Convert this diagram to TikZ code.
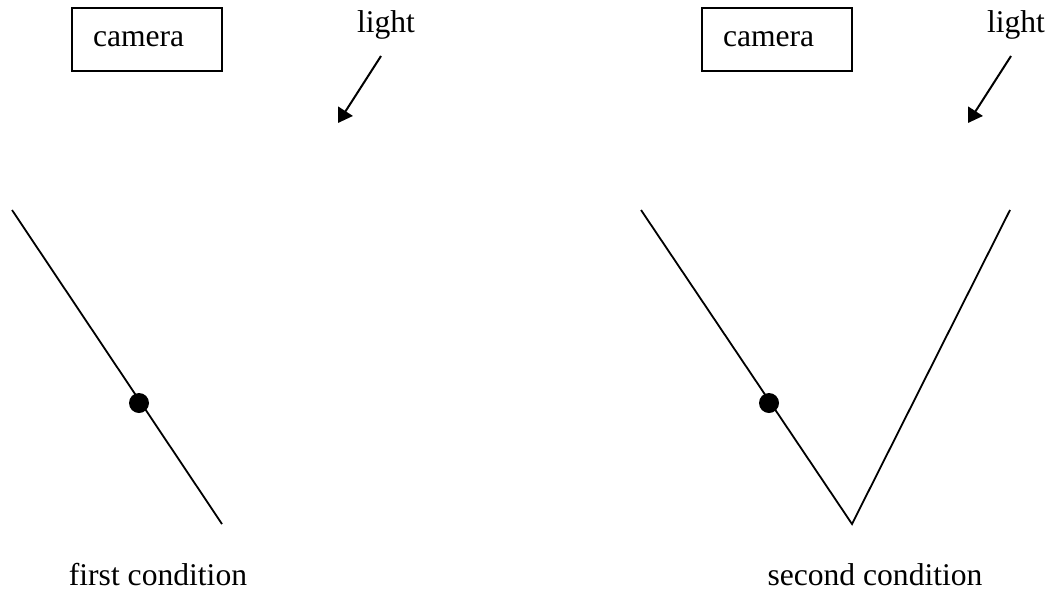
\documentclass[tikz,border=0pt]{standalone}
\usepackage{fontspec}
\setmainfont{Liberation Serif}
\usetikzlibrary{arrows.meta}
\begin{document}
\begin{tikzpicture}[x=1pt,y=-1pt,
  every node/.style={font=\fontsize{31.6}{36}\selectfont},
  camerabox/.style={draw, line width=1.8pt, minimum width=150pt, minimum height=63pt,
    inner sep=0pt, text width=108pt, align=left},
  txt/.style={anchor=base, inner sep=0pt},
  lightarrow/.style={line width=2pt, -{Triangle[length=14pt,width=17pt]}},
  surface/.style={line width=1.8pt},
  dotmark/.style={circle, fill=black, minimum size=20pt, inner sep=0pt}]
\useasboundingbox (0,0) rectangle (1052,592);
% left panel
\node[camerabox] (cam1) at (147,39.5) {camera};
\node[txt] (light1) at (386,32) {light};
\coordinate (a1s) at (381,56);
\coordinate (a1e) at (338,123);
\draw[lightarrow] (a1s) -- (a1e);
\coordinate (s1a) at (12,210);
\coordinate (s1b) at (222,524);
\draw[surface] (s1a) -- (s1b);
\node[dotmark] (dot1) at (139,403) {};
\node[txt] (cap1) at (158,585) {first condition};
% right panel
\node[camerabox] (cam2) at (777,39.5) {camera};
\node[txt] (light2) at (1016,32) {light};
\coordinate (a2s) at (1011,56);
\coordinate (a2e) at (968,123);
\draw[lightarrow] (a2s) -- (a2e);
\coordinate (s2a) at (641,210);
\coordinate (s2b) at (852,524);
\coordinate (s2c) at (1010,210);
\draw[surface] (s2a) -- (s2b) -- (s2c);
\node[dotmark] (dot2) at (769,403) {};
\node[txt] (cap2) at (875,585) {second condition};
\end{tikzpicture}
\end{document}
